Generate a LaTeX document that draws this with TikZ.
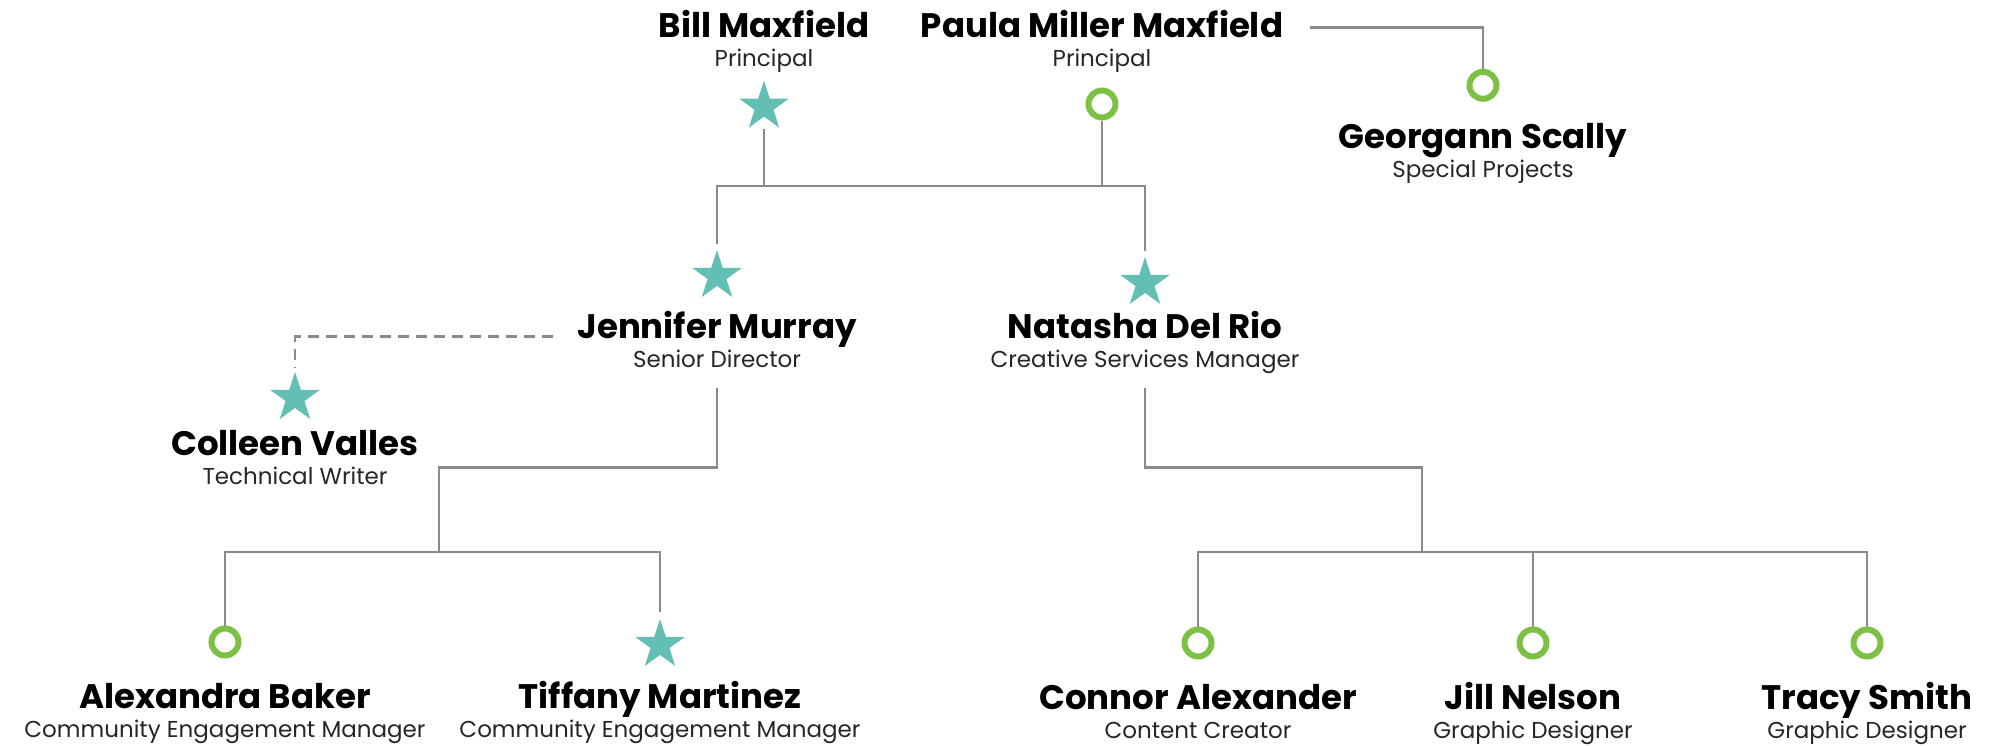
\documentclass[tikz,border=0pt]{standalone}
\usepackage{fontspec}
\setmainfont{Poppins}
\usepackage{tikz}
\usetikzlibrary{positioning,shapes.geometric}

\definecolor{starteal}{RGB}{99,191,180}
\definecolor{ringgreen}{RGB}{124,193,67}
\definecolor{linegray}{RGB}{138,138,138}

\begin{document}
\begin{tikzpicture}[
  x=0.5pt, y=-0.5pt,
  node distance=6.25pt,
  person/.style={anchor=south, inner sep=0pt, text height=12pt, text depth=0pt, font=\bfseries\fontsize{17}{20}\selectfont},
  role/.style={inner sep=0pt, text height=8pt, text depth=0pt, font=\fontsize{11.5}{14}\selectfont, text=black!85},
  starmark/.style={star, star points=5, star point ratio=2.618, minimum size=26pt, inner sep=0pt, fill=starteal},
  ringmark/.style={circle, draw=ringgreen, line width=3pt, minimum size=13.5pt, inner sep=0pt, fill=white},
  link/.style={draw=linegray, line width=1.4pt},
]
\useasboundingbox (0,0) rectangle (1995,745);

% principals
\node[person] (bill) at (764,37.5) {Bill Maxfield};
\node[role, below=of bill] (bill-role) {Principal};
\node[starmark] (bill-m) at (764,106.7) {};
\node[person] (paula) at (1102,37.5) {Paula Miller Maxfield};
\node[role, below=of paula] (paula-role) {Principal};
\node[ringmark] (paula-m) at (1102,104) {};

\node[ringmark] (georgann-m) at (1483,85.3) {};
\node[person] (georgann) at (1483,149) {Georgann Scally};
\node[role, below=of georgann] (georgann-role) {Special Projects};

% second level
\node[starmark] (jennifer-m) at (717,276) {};
\node[person] (jennifer) at (717,338.5) {Jennifer Murray};
\node[role, below=of jennifer] (jennifer-role) {Senior Director};
\node[starmark] (natasha-m) at (1145,283) {};
\node[person] (natasha) at (1145,338.5) {Natasha Del Rio};
\node[role, below=of natasha] (natasha-role) {Creative Services Manager};

\node[starmark] (colleen-m) at (295,398) {};
\node[person] (colleen) at (295,455.5) {Colleen Valles};
\node[role, below=of colleen] (colleen-role) {Technical Writer};

% bottom row
\node[ringmark] (alexandra-m) at (225,642) {};
\node[person] (alexandra) at (225,708.5) {Alexandra Baker};
\node[role, below=of alexandra] (alexandra-role) {Community Engagement Manager};
\node[starmark] (tiffany-m) at (660,645) {};
\node[person] (tiffany) at (660,708.5) {Tiffany Martinez};
\node[role, below=of tiffany] (tiffany-role) {Community Engagement Manager};

\node[ringmark] (connor-m) at (1198,643) {};
\node[person] (connor) at (1198,709.5) {Connor Alexander};
\node[role, below=of connor] (connor-role) {Content Creator};
\node[ringmark] (jill-m) at (1533,643) {};
\node[person] (jill) at (1533,709.5) {Jill Nelson};
\node[role, below=of jill] (jill-role) {Graphic Designer};
\node[ringmark] (tracy-m) at (1867,643) {};
\node[person] (tracy) at (1867,709.5) {Tracy Smith};
\node[role, below=of tracy] (tracy-role) {Graphic Designer};

\coordinate (top-bus) at (930,186);
\coordinate (jfork) at (439,552);
\coordinate (nfork) at (1422,552);

\draw[link] (bill-m.center |- bill-m.outer point 3) -- (bill-m |- top-bus);
\draw[link] (paula-m) -- (paula-m |- top-bus);
\draw[link] ([yshift=2.5pt]jennifer-m.north) |- (top-bus) -| ([yshift=2.5pt]natasha-m.north);
\draw[link] ([xshift=13pt,yshift=-1pt]paula.east) -| (georgann-m);
\draw[link, dash pattern=on 5.5pt off 3.5pt] ([xshift=-12pt,yshift=1pt]jennifer.south west) -| ([yshift=2pt]colleen-m.north);

\draw[link] ([yshift=-10pt]jennifer-role.south) -- ++(0,80) -| (jfork);
\draw[link] (alexandra-m) |- (jfork) -| ([yshift=3pt]tiffany-m.north);
\draw[link] ([yshift=-10pt]natasha-role.south) -- ++(0,80) -| (nfork);
\draw[link] (connor-m) |- (nfork) -| (tracy-m);
\draw[link] (jill-m) -- (jill-m |- nfork);
\end{tikzpicture}
\end{document}
